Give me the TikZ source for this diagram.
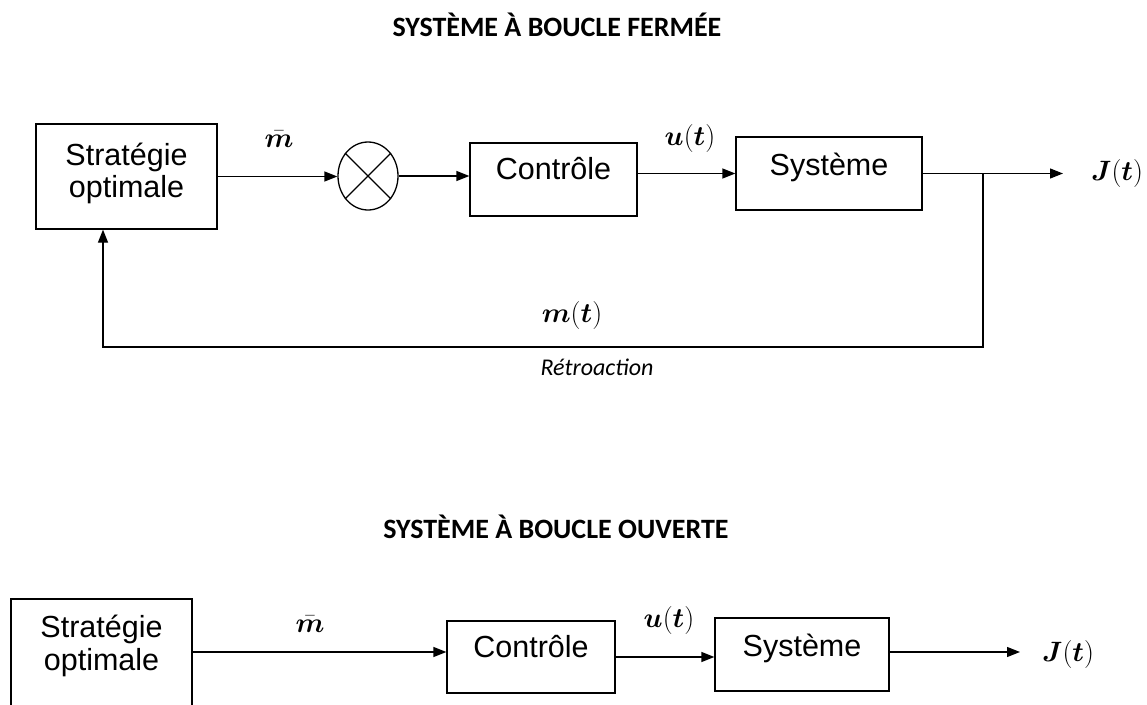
\RequirePackage{fix-cm}
\documentclass[tikz,border=0pt]{standalone}
\usepackage{amsmath}
\usepackage{fontspec}
\setmainfont{Liberation Sans}
\newfontfamily\ttlfont{Carlito}
\usetikzlibrary{arrows.meta,shapes.geometric}
\begin{document}
\begin{tikzpicture}[x=1pt,y=-1pt,
  blk/.style={draw, line width=1.3pt, inner sep=0pt},
  con/.style={line width=1.3pt, -{Triangle[length=13pt,width=10pt]}},
  wire/.style={line width=1.3pt},
  txt/.style={font=\fontsize{30.5}{33}\selectfont, inner sep=0pt},
  mth/.style={font=\fontsize{28}{32}\selectfont, inner sep=0pt},
  ttl/.style={font=\ttlfont\bfseries\fontsize{28}{32}\selectfont, inner sep=0pt, anchor=base},
  ital/.style={font=\ttlfont\itshape\fontsize{24}{28}\selectfont, inner sep=0pt},
]
\useasboundingbox (0,0) rectangle (1147,704);

% ---------- closed loop ----------
\node[ttl] (t1) at (557,36) {SYSTÈME À BOUCLE FERMÉE};

\node[blk, minimum width=181, minimum height=105] (b1) at (126.5,176.5) {};
\node[txt, anchor=base] (b1a) at (126.5,165) {Stratégie};
\node[txt, anchor=base] (b1b) at (126.5,197) {optimale};

\node[blk, ellipse, minimum width=60, minimum height=68] (sum) at (368,176) {};
\draw[wire] (sum.135) -- (sum.-45);
\draw[wire] (sum.45) -- (sum.-135);

\node[blk, minimum width=167, minimum height=73] (c1) at (553.5,179.5) {};
\node[txt, anchor=base] (c1t) at (553.5,179) {Contrôle};

\node[blk, minimum width=186, minimum height=73] (s1) at (829,173.5) {};
\node[txt, anchor=base] (s1t) at (829,175) {Système};

\node[mth] (mb1) at (279,139) {$\bar{\boldsymbol{m}}$};
\node[mth] (u1) at (690,138) {$\boldsymbol{u}(\boldsymbol{t})$};
\node[mth] (j1) at (1117,173.5) {$\boldsymbol{J}(\boldsymbol{t})$};
\node[mth] (m1) at (572,315) {$\boldsymbol{m}(\boldsymbol{t})$};
\node[ital] (r1) at (597,367) {Rétroaction};

\draw[con] (b1.east) -- (b1.east -| sum.west);
\draw[con] (sum.east) -- (sum.east -| c1.west);
\draw[con] (c1.east |- s1.west) -- (s1.west);
\coordinate (o1) at (1063,173.5);
\draw[con] (s1.east) -- (o1);
\coordinate (jn) at (983,173.5);
\coordinate (fb) at (103,347);
\draw[con] (jn) |- (fb) -- (fb |- b1.south);

% ---------- open loop ----------
\node[ttl] (t2) at (556,538) {SYSTÈME À BOUCLE OUVERTE};

\node[blk, minimum width=181, minimum height=108] (b2) at (101.5,653) {};
\node[txt, anchor=base] (b2a) at (101.5,637) {Stratégie};
\node[txt, anchor=base] (b2b) at (101.5,670) {optimale};

\node[blk, minimum width=168, minimum height=72] (c2) at (531,657) {};
\node[txt, anchor=base] (c2t) at (531,657) {Contrôle};

\node[blk, minimum width=174, minimum height=73] (s2) at (802,654.5) {};
\node[txt, anchor=base] (s2t) at (802,656) {Système};

\node[mth] (mb2) at (310,624) {$\bar{\boldsymbol{m}}$};
\node[mth] (u2) at (669,620) {$\boldsymbol{u}(\boldsymbol{t})$};
\node[mth] (j2) at (1068,654) {$\boldsymbol{J}(\boldsymbol{t})$};

\draw[con] (b2.east |- 0,652) -- (c2.west |- 0,652);
\draw[con] (c2.east) -- (c2.east -| s2.west);
\coordinate (o2) at (1020,652);
\draw[con] (s2.east |- o2) -- (o2);
\end{tikzpicture}
\end{document}
